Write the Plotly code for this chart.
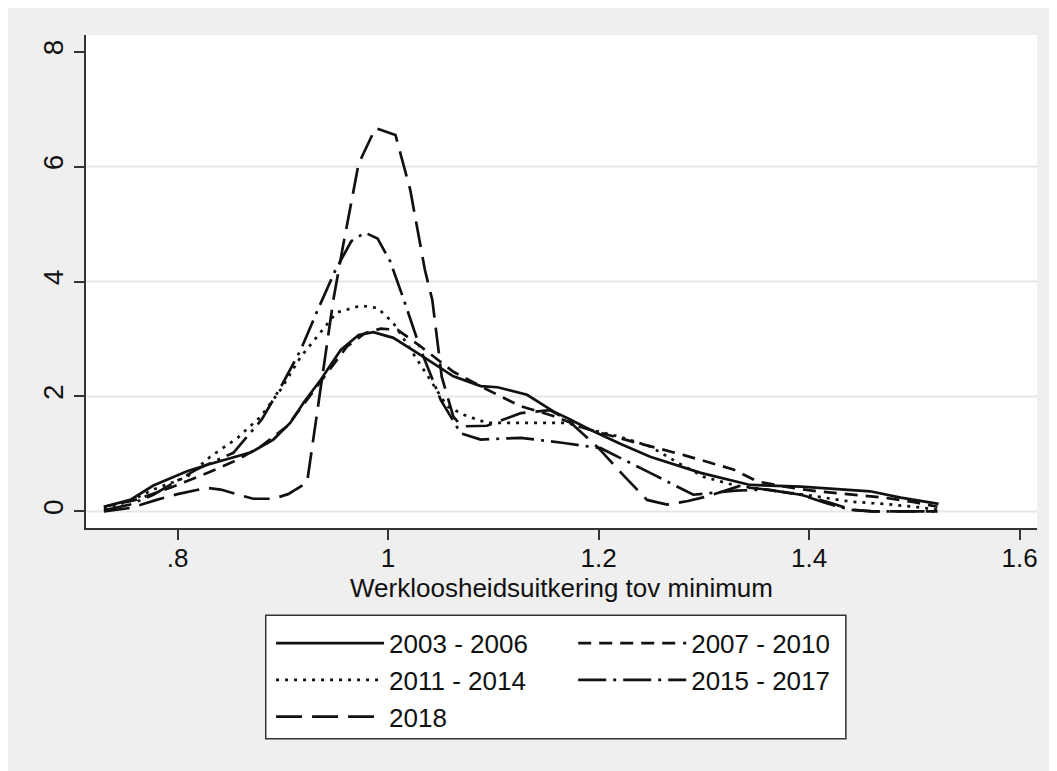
import plotly.graph_objects as go

# ---- data ----
x_2003 = [0.73, 0.755, 0.777, 0.809, 0.83, 0.85, 0.87, 0.891, 0.907, 0.92, 0.936, 0.955, 0.972, 0.986, 1.005, 1.031, 1.062, 1.088, 1.104, 1.132, 1.157, 1.173, 1.192, 1.22, 1.249, 1.297, 1.344, 1.392, 1.439, 1.458, 1.487, 1.523]
y_2003 = [0.08, 0.2, 0.45, 0.7, 0.82, 0.92, 1.03, 1.25, 1.54, 1.9, 2.29, 2.81, 3.07, 3.12, 3.02, 2.72, 2.35, 2.18, 2.16, 2.03, 1.74, 1.6, 1.42, 1.18, 0.95, 0.67, 0.46, 0.43, 0.38, 0.35, 0.24, 0.13]

x_2007 = [0.73, 0.76, 0.793, 0.831, 0.857, 0.879, 0.904, 0.923, 0.942, 0.961, 0.978, 0.993, 1.009, 1.031, 1.062, 1.094, 1.126, 1.157, 1.186, 1.233, 1.281, 1.328, 1.351, 1.38, 1.408, 1.44, 1.471, 1.5, 1.522]
y_2007 = [0.08, 0.2, 0.41, 0.69, 0.9, 1.13, 1.48, 1.94, 2.41, 2.87, 3.1, 3.18, 3.16, 2.87, 2.43, 2.12, 1.83, 1.66, 1.45, 1.21, 0.98, 0.73, 0.52, 0.42, 0.35, 0.3, 0.24, 0.16, 0.08]

x_2011 = [0.73, 0.755, 0.777, 0.809, 0.831, 0.857, 0.879, 0.898, 0.917, 0.936, 0.951, 0.974, 0.99, 1.005, 1.024, 1.04, 1.056, 1.072, 1.094, 1.126, 1.17, 1.186, 1.22, 1.249, 1.275, 1.3, 1.33, 1.37, 1.4, 1.439, 1.471, 1.5, 1.522]
y_2011 = [0.05, 0.18, 0.38, 0.6, 0.95, 1.28, 1.65, 2.12, 2.69, 3.13, 3.46, 3.58, 3.54, 3.28, 2.75, 2.29, 1.83, 1.68, 1.54, 1.54, 1.54, 1.45, 1.3, 1.13, 0.85, 0.6, 0.45, 0.35, 0.28, 0.17, 0.13, 0.08, 0.03]

x_2015 = [0.73, 0.755, 0.777, 0.818, 0.853, 0.88, 0.9, 0.917, 0.933, 0.95, 0.965, 0.978, 0.99, 1.002, 1.015, 1.031, 1.05, 1.069, 1.088, 1.126, 1.167, 1.202, 1.249, 1.29, 1.33, 1.36, 1.392, 1.415, 1.439, 1.46, 1.5, 1.522]
y_2015 = [0.02, 0.12, 0.29, 0.73, 1.02, 1.6, 2.23, 2.81, 3.5, 4.2, 4.7, 4.85, 4.75, 4.35, 3.68, 2.81, 1.94, 1.36, 1.25, 1.28, 1.19, 1.1, 0.67, 0.29, 0.36, 0.38, 0.29, 0.15, 0.03, 0.0, 0.0, 0.0]

x_2018 = [0.73, 0.755, 0.78, 0.8, 0.828, 0.841, 0.856, 0.872, 0.891, 0.905, 0.923, 0.935, 0.948, 0.957, 0.972, 0.988, 1.007, 1.021, 1.035, 1.042, 1.051, 1.062, 1.07, 1.094, 1.126, 1.154, 1.17, 1.2, 1.225, 1.246, 1.265, 1.285, 1.303, 1.332, 1.36, 1.392, 1.42, 1.44, 1.46, 1.522]
y_2018 = [0.0, 0.06, 0.2, 0.3, 0.41, 0.38, 0.3, 0.22, 0.22, 0.3, 0.5, 2.0, 3.68, 4.6, 6.05, 6.67, 6.55, 5.6, 4.2, 3.68, 2.34, 1.65, 1.48, 1.49, 1.71, 1.76, 1.6, 1.1, 0.6, 0.2, 0.12, 0.18, 0.26, 0.43, 0.38, 0.29, 0.15, 0.03, 0.0, 0.0]

series_names = ["2003 - 2006", "2007 - 2010", "2011 - 2014", "2015 - 2017", "2018"]
x_ticks = [0.8, 1.0, 1.2, 1.4, 1.6]
x_ticklabels = [".8", "1", "1.2", "1.4", "1.6"]
y_ticks = [0, 2, 4, 6, 8]
y_grid = [0, 2, 4, 6]
x_title = "Werkloosheidsuitkering tov minimum"

# ---- styling ----
FONT = "Liberation Sans, Arial, sans-serif"
FS = 26
INK = "#111111"
AXC = "#333333"
dashes = ["solid", "13px,8px", "3px,6px", "28px,7px,3px,7px", "26px,10px"]
legend_of = ["legend", "legend2", "legend", "legend2", "legend"]
xs = [x_2003, x_2007, x_2011, x_2015, x_2018]
ys = [y_2003, y_2007, y_2011, y_2015, y_2018]

fig = go.Figure()
for name, xv, yv, d, lg in zip(series_names, xs, ys, dashes, legend_of):
    fig.add_trace(go.Scatter(x=xv, y=yv, mode="lines", name=name, legend=lg,
                             legendgroup=name,
                             line=dict(color=INK, width=2.7, dash=d)))

shapes = []
# horizontal grid lines
for g in y_grid:
    shapes.append(dict(type="line", xref="paper", yref="y", x0=0, x1=1, y0=g, y1=g,
                       line=dict(color="#E6E6E6", width=2), layer="below"))
# legend frame
shapes.append(dict(type="rect", xref="paper", yref="paper", x0=0.189, x1=0.799, y0=-0.4275, y1=-0.177,
                   fillcolor="white", line=dict(color=AXC, width=1.5), layer="below"))

leg_common = dict(orientation="v", yanchor="top", xanchor="left",
                  bgcolor="rgba(0,0,0,0)", borderwidth=0, itemwidth=108,
                  traceorder="grouped", tracegroupgap=0,
                  font=dict(family=FONT, size=FS, color="#111111"))

fig.update_layout(
    width=1057, height=771, autosize=False,
    margin=dict(l=78, r=28, t=27, b=251, pad=0, autoexpand=False),
    paper_bgcolor="#EFEFEF", plot_bgcolor="white",
    font=dict(family=FONT, size=FS, color="#111111"),
    shapes=shapes,
    showlegend=True,
    legend=dict(x=0.1946, y=-0.186, **leg_common),
    legend2=dict(x=0.5123, y=-0.186, **leg_common),
    xaxis=dict(range=[0.713, 1.6165], tickvals=x_ticks, ticktext=x_ticklabels,
               ticks="outside", ticklen=10, tickwidth=1.5, tickcolor=AXC, automargin=False,
               ticklabelstandoff=-4,
               showline=True, linecolor=AXC, linewidth=1.5, showgrid=False, zeroline=False,
               tickfont=dict(family=FONT, size=FS, color="#111111"),
               title=dict(text=x_title, standoff=4, font=dict(family=FONT, size=FS, color="#111111"))),
    yaxis=dict(range=[-0.289, 8.29], tickvals=y_ticks, tickangle=-90,
               ticks="outside", ticklen=10, tickwidth=1.5, tickcolor=AXC, automargin=False,
               showline=True, linecolor=AXC, linewidth=1.5, showgrid=False, zeroline=False,
               tickfont=dict(family=FONT, size=28, color="#111111")),
)

fig.write_html("out.html")
